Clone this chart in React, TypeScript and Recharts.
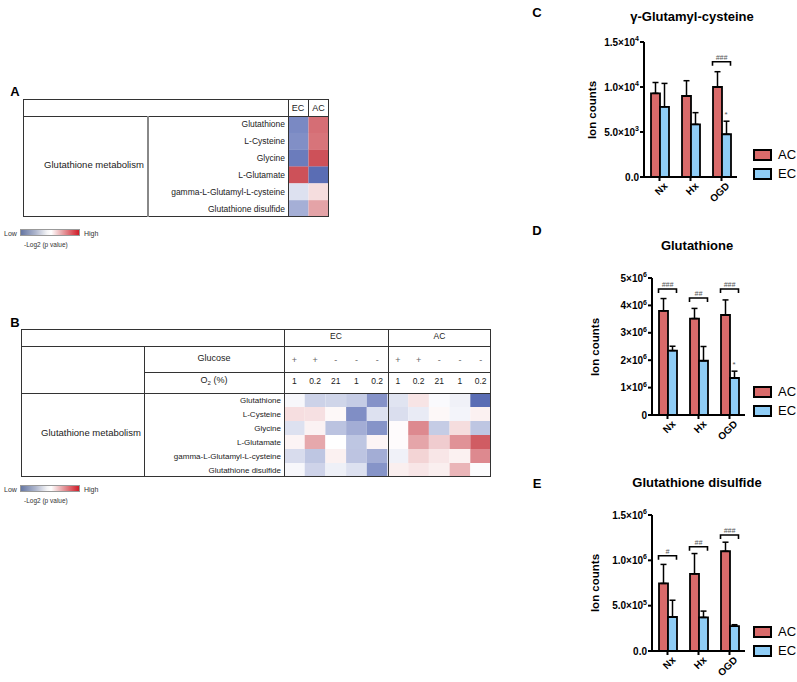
import React from 'react';
import { BarChart, Bar, XAxis, YAxis, Cell, ErrorBar, ReferenceDot, Legend } from 'recharts';

const FONT = '"Liberation Sans", Arial, Helvetica, sans-serif';
const AC_COLOR = '#d96a6a';
const EC_COLOR = '#8fcdf6';

// ---------- Heatmap data (-Log2 p value, signed: negative = low/blue, positive = high/red) ----------
const metabolites = ['Glutathione', 'L-Cysteine', 'Glycine', 'L-Glutamate', 'gamma-L-Glutamyl-L-cysteine', 'Glutathione disulfide'];
const heatAColumns = ['EC', 'AC'];
const heatA_EC = [-0.78, -0.74, -0.87, 0.96, -0.2, -0.53];
const heatA_AC = [0.8, 0.77, 0.96, -0.97, 0.19, 0.51];

const heatBGroups = ['EC', 'AC'];
const heatBGlucose = ['+', '+', '-', '-', '-', '+', '+', '-', '-', '-'];
const heatBO2 = ['1', '0.2', '21', '1', '0.2', '1', '0.2', '21', '1', '0.2'];
const heatB_Glutathione = [-0.05, -0.3, -0.28, -0.34, -0.72, -0.18, 0.15, -0.03, -0.09, -0.97];
const heatB_LCysteine = [0.18, 0.17, 0.04, -0.75, -0.2, -0.22, -0.13, 0.04, -0.07, 0.08];
const heatB_Glycine = [-0.2, 0.07, -0.4, -0.54, -0.71, 0.02, 0.65, -0.34, 0.19, -0.38];
const heatB_LGlutamate = [0.06, 0.48, 0.0, -0.38, 0.06, 0.02, 0.5, 0.28, 0.6, 0.9];
const heatB_Gamma = [-0.23, -0.38, 0.08, -0.39, -0.54, -0.09, 0.24, 0.14, 0.08, 0.65];
const heatB_GSSG = [-0.05, -0.29, -0.1, -0.2, -0.71, 0.09, 0.14, 0.09, 0.41, -0.02];

// ---------- Bar chart data ----------
const groups = ['Nx', 'Hx', 'OGD'];

const cTicks = [0, 5000, 10000, 15000];
const cTickLabels = ['0.0', '5.0×10^3', '1.0×10^4', '1.5×10^4'];
const cAC = [9300, 9000, 10000];
const cACErr = [1200, 1700, 1700];
const cEC = [7800, 5850, 4750];
const cECErr = [2600, 1300, 1450];
const cBracketGroups = ['OGD'];
const cBracketY = [12800];
const cBracketLabels = ['###'];
const cStarGroups = ['OGD'];
const cStarY = [7000];

const dTicks = [0, 1e6, 2e6, 3e6, 4e6, 5e6];
const dTickLabels = ['0', '1×10^6', '2×10^6', '3×10^6', '4×10^6', '5×10^6'];
const dAC = [3.8e6, 3.52e6, 3.65e6];
const dACErr = [0.45e6, 0.37e6, 0.55e6];
const dEC = [2.35e6, 1.98e6, 1.35e6];
const dECErr = [0.16e6, 0.52e6, 0.25e6];
const dBracketGroups = ['Nx', 'Hx', 'OGD'];
const dBracketY = [4.6e6, 4.27e6, 4.6e6];
const dBracketLabels = ['###', '##', '###'];
const dStarGroups = ['OGD'];
const dStarY = [1.85e6];

const eTicks = [0, 5e5, 1e6, 1.5e6];
const eTickLabels = ['0.0', '5.0×10^5', '1.0×10^6', '1.5×10^6'];
const eAC = [0.745e6, 0.85e6, 1.1e6];
const eACErr = [0.21e6, 0.225e6, 0.1e6];
const eEC = [0.375e6, 0.37e6, 0.275e6];
const eECErr = [0.185e6, 0.07e6, 0.015e6];
const eBracketGroups = ['Nx', 'Hx', 'OGD'];
const eBracketY = [1.05e6, 1.15e6, 1.28e6];
const eBracketLabels = ['#', '##', '###'];
const eStarGroups: string[] = [];
const eStarY: number[] = [];

// ---------- helpers ----------
function colorFor(v: number) {
  const t = Math.min(1, Math.abs(v));
  const tgt = v < 0 ? [85, 104, 178] : [203, 74, 82];
  const c = tgt.map((x) => Math.round(255 + (x - 255) * t));
  return `rgb(${c.join(',')})`;
}

const abs = (left: number, top: number, extra: any = {}) => ({ position: 'absolute' as const, left, top, ...extra });

function T({ x, y, size = 9, children, weight = 'normal', color = '#222', anchor = 'center' }: any) {
  const tx = anchor === 'center' ? '-50%' : anchor === 'end' ? '-100%' : '0';
  return (
    <div style={{ position: 'absolute', left: x, top: y, transform: `translate(${tx},-50%)`, fontSize: size, fontWeight: weight, color, whiteSpace: 'nowrap', lineHeight: 1, fontFamily: FONT }}>
      {children}
    </div>
  );
}
const HL = ({ x1, x2, y, c = '#333', w = 1 }: any) => <div style={abs(x1, y - w / 2, { width: x2 - x1, height: w, background: c })} />;
const VL = ({ x, y1, y2, c = '#333', w = 1 }: any) => <div style={abs(x - w / 2, y1, { width: w, height: y2 - y1, background: c })} />;

function Heat({ values, width, height, labelWidth, fontSize }: any) {
  const ncols = values[0].length;
  const data = metabolites.map((name) => {
    const o: any = { name };
    for (let c = 0; c < ncols; c++) o['c' + c] = 1;
    return o;
  });
  return (
    <BarChart layout="vertical" width={width} height={height} data={data} margin={{ top: 0, right: 0, bottom: 0, left: 0 }} barCategoryGap={0} barGap={0}>
      <XAxis type="number" hide domain={[0, ncols]} />
      <YAxis type="category" dataKey="name" width={labelWidth} tickSize={0} tickMargin={3} axisLine={false} tickLine={false} interval={0}
        tick={{ fontSize, fill: '#222', fontFamily: FONT }} />
      {Array.from({ length: ncols }).map((_, c) => (
        <Bar key={c} dataKey={'c' + c} stackId="s" isAnimationActive={false}>
          {metabolites.map((_, r) => <Cell key={r} fill={colorFor(values[r][c])} />)}
        </Bar>
      ))}
    </BarChart>
  );
}

function GradLegend({ top }: { top: number }) {
  return (
    <>
      <T x={4} y={top + 3.5} size={7} anchor="start" color="#333">Low</T>
      <div style={abs(20, top, { width: 60, height: 7, border: '0.5px solid #999', boxSizing: 'border-box', background: 'linear-gradient(to right, #6677a3 0%, #aeb6cd 25%, #f4f4f6 45%, #ffffff 52%, #e8a9ac 70%, #d01c28 100%)' })} />
      <T x={84} y={top + 3.5} size={7} anchor="start" color="#333">High</T>
      <T x={24} y={top + 16} size={6.5} anchor="start" color="#333">-Log2 (p value)</T>
    </>
  );
}

function YTick(props: any) {
  const { x, y, payload, labels, values } = props;
  const idx = values.indexOf(payload.value);
  const lab: string = idx >= 0 ? labels[idx] : String(payload.value);
  const [base, exp] = lab.split('^');
  return (
    <text x={x} y={y} dy={3.6} textAnchor="end" fontSize={10} fontWeight="bold" fontFamily={FONT} fill="#000">
      {base}
      {exp ? <tspan dy={-4.5} fontSize={7}>{exp}</tspan> : null}
    </text>
  );
}

function XTick(props: any) {
  const { x, y, payload } = props;
  const ax = x + 3;
  const ay = y - 1;
  return (
    <text x={ax} y={ay} dy={8} transform={`rotate(-45 ${ax} ${ay})`} textAnchor="end" fontSize={10} fontWeight="bold" fontFamily={FONT} fill="#000">
      {payload.value}
    </text>
  );
}

function Bracket({ cx, cy, label }: any) {
  if (cx == null || cy == null) return null;
  return (
    <g>
      <path d={`M${cx - 9},${cy + 4} L${cx - 9},${cy} L${cx + 9},${cy} L${cx + 9},${cy + 4}`} fill="none" stroke="#000" strokeWidth={1.6} />
      <text x={cx} y={cy - 2} textAnchor="middle" fontSize={7} fontStyle="italic" fill="#555" fontFamily={FONT}>{label}</text>
    </g>
  );
}

function Star({ cx, cy }: any) {
  if (cx == null || cy == null) return null;
  return <text x={cx + 4.5} y={cy + 3} textAnchor="middle" fontSize={8} fill="#555" fontFamily={FONT}>*</text>;
}

function LegendBox() {
  const row = (color: string, name: string, top: number) => (
    <div style={{ position: 'absolute', left: 0, top, display: 'flex', alignItems: 'center' }}>
      <div style={{ width: 15, height: 8, background: color, border: '2px solid #000', boxSizing: 'content-box' }} />
      <span style={{ marginLeft: 6, fontSize: 13, fontFamily: FONT, color: '#000', lineHeight: 1 }}>{name}</span>
    </div>
  );
  return (
    <div style={{ position: 'relative', width: 50, height: 40 }}>
      {row(AC_COLOR, 'AC', 0)}
      {row(EC_COLOR, 'EC', 19)}
    </div>
  );
}

function IonChart(p: any) {
  const data = groups.map((g, i) => ({ g, ac: p.ac[i], acE: [0, p.acErr[i]], ec: p.ec[i], ecE: [0, p.ecErr[i]] }));
  const axisStyle = { stroke: '#000', strokeWidth: 2 };
  return (
    <div style={abs(p.left, p.top)}>
      <BarChart width={p.width} height={p.height} data={data} margin={{ top: 42, right: p.marginRight, bottom: 0, left: 0 }} barGap={0} barCategoryGap={0}>
        <XAxis dataKey="g" height={p.xAxisHeight} tickSize={4} tickMargin={1} interval={0} axisLine={axisStyle} tickLine={axisStyle}
          tick={(tp: any) => <XTick {...tp} />} />
        <YAxis type="number" domain={p.domain} ticks={p.ticks} width={p.yAxisWidth} tickSize={4} tickMargin={1} interval={0}
          axisLine={axisStyle} tickLine={axisStyle} allowDataOverflow
          tick={(tp: any) => <YTick {...tp} labels={p.tickLabels} values={p.ticks} />} />
        <Bar dataKey="ac" fill={AC_COLOR} stroke="#000" strokeWidth={1.8} barSize={9} isAnimationActive={false}>
          <ErrorBar dataKey="acE" width={3} strokeWidth={1.5} stroke="#000" direction="y" />
        </Bar>
        <Bar dataKey="ec" fill={EC_COLOR} stroke="#000" strokeWidth={1.8} barSize={9} isAnimationActive={false}>
          <ErrorBar dataKey="ecE" width={3} strokeWidth={1.5} stroke="#000" direction="y" />
        </Bar>
        {p.bracketGroups.map((g: string, i: number) => (
          <ReferenceDot key={'b' + i} x={g} y={p.bracketY[i]} r={1} ifOverflow="visible"
            shape={(sp: any) => <Bracket cx={sp.cx} cy={sp.cy} label={p.bracketLabels[i]} />} />
        ))}
        {p.starGroups.map((g: string, i: number) => (
          <ReferenceDot key={'s' + i} x={g} y={p.starY[i]} r={1} ifOverflow="visible"
            shape={(sp: any) => <Star cx={sp.cx} cy={sp.cy} />} />
        ))}
        <Legend layout="vertical" align="center" verticalAlign="middle"
          wrapperStyle={{ left: p.legendLeft, top: p.legendTop, width: 50, height: 40 }}
          content={() => <LegendBox />} />
      </BarChart>
    </div>
  );
}

export default function App() {
  const heatAValues = metabolites.map((_, r) => [heatA_EC[r], heatA_AC[r]]);
  const heatBValues = [heatB_Glutathione, heatB_LCysteine, heatB_Glycine, heatB_LGlutamate, heatB_Gamma, heatB_GSSG];
  const bColW = (491 - 284) / 10;

  return (
    <div style={{ position: 'absolute', left: 0, top: 0, width: 797, height: 682, background: '#fff', fontFamily: FONT, overflow: 'hidden' }}>
      {/* ---------------- Panel A ---------------- */}
      <T x={15} y={91} size={13} weight="bold" color="#000">A</T>
      <div style={abs(148, 116)}>
        <Heat values={heatAValues} width={181} height={101} labelWidth={140} fontSize={8.5} />
      </div>
      <div style={abs(23, 99, { width: 306, height: 118, border: '1px solid #333', boxSizing: 'border-box' })} />
      <HL x1={23} x2={329} y={116} />
      <VL x={288} y1={99} y2={217} />
      <VL x={308} y1={99} y2={116} />
      <VL x={148} y1={116} y2={217} c="#888" w={1.6} />
      <T x={298} y={108} size={9}>{heatAColumns[0]}</T>
      <T x={318.5} y={108} size={9}>{heatAColumns[1]}</T>
      <T x={94} y={165} size={9.5}>Glutathione metabolism</T>
      <GradLegend top={229} />

      {/* ---------------- Panel B ---------------- */}
      <T x={15} y={322} size={13} weight="bold" color="#000">B</T>
      <div style={abs(144, 393)}>
        <Heat values={heatBValues} width={347} height={84} labelWidth={140} fontSize={8} />
      </div>
      <div style={abs(21, 329, { width: 470, height: 148, border: '1px solid #333', boxSizing: 'border-box' })} />
      <HL x1={21} x2={491} y={346} />
      <HL x1={144} x2={491} y={372} />
      <HL x1={21} x2={491} y={393.5} />
      <VL x={144} y1={346} y2={477} />
      <VL x={284} y1={329} y2={477} />
      <VL x={388} y1={329} y2={477} />
      <T x={336} y={336} size={8.5}>{heatBGroups[0]}</T>
      <T x={439.5} y={336} size={8.5}>{heatBGroups[1]}</T>
      <T x={214} y={358} size={9}>Glucose</T>
      <T x={214} y={381} size={9}>O<sub style={{ fontSize: 6 }}>2</sub> (%)</T>
      {heatBGlucose.map((s, i) => (
        <T key={'g' + i} x={284 + (i + 0.5) * bColW} y={360} size={9} color="#666">{s}</T>
      ))}
      {heatBO2.map((s, i) => (
        <T key={'o' + i} x={284 + (i + 0.5) * bColW} y={381} size={8.5}>{s}</T>
      ))}
      <T x={91} y={433} size={9.5}>Glutathione metabolism</T>
      <GradLegend top={485} />

      {/* ---------------- Panel C ---------------- */}
      <T x={537} y={12} size={13} weight="bold" color="#000">C</T>
      <T x={692} y={16} size={13} weight="bold" color="#000">γ-Glutamyl-cysteine</T>
      <div style={abs(592, 110, { transform: 'translate(-50%,-50%) rotate(-90deg)', fontSize: 11.5, fontWeight: 'bold', whiteSpace: 'nowrap' })}>Ion counts</div>
      <IonChart left={560} top={0} width={237} height={210} marginRight={60} yAxisWidth={84} xAxisHeight={33}
        domain={[0, 15000]} ticks={cTicks} tickLabels={cTickLabels}
        ac={cAC} acErr={cACErr} ec={cEC} ecErr={cECErr}
        bracketGroups={cBracketGroups} bracketY={cBracketY} bracketLabels={cBracketLabels}
        starGroups={cStarGroups} starY={cStarY} legendLeft={193} legendTop={148} />

      {/* ---------------- Panel D ---------------- */}
      <T x={537} y={230} size={13} weight="bold" color="#000">D</T>
      <T x={697} y={245} size={13} weight="bold" color="#000">Glutathione</T>
      <div style={abs(595, 347, { transform: 'translate(-50%,-50%) rotate(-90deg)', fontSize: 11.5, fontWeight: 'bold', whiteSpace: 'nowrap' })}>Ion counts</div>
      <IonChart left={560} top={236} width={237} height={212} marginRight={52} yAxisWidth={92} xAxisHeight={33}
        domain={[0, 5e6]} ticks={dTicks} tickLabels={dTickLabels}
        ac={dAC} acErr={dACErr} ec={dEC} ecErr={dECErr}
        bracketGroups={dBracketGroups} bracketY={dBracketY} bracketLabels={dBracketLabels}
        starGroups={dStarGroups} starY={dStarY} legendLeft={193} legendTop={149} />

      {/* ---------------- Panel E ---------------- */}
      <T x={537} y={483} size={13} weight="bold" color="#000">E</T>
      <T x={697} y={482} size={13} weight="bold" color="#000">Glutathione disulfide</T>
      <div style={abs(595, 583, { transform: 'translate(-50%,-50%) rotate(-90deg)', fontSize: 11.5, fontWeight: 'bold', whiteSpace: 'nowrap' })}>Ion counts</div>
      <IonChart left={560} top={473} width={237} height={208} marginRight={52} yAxisWidth={92} xAxisHeight={30}
        domain={[0, 1.5e6]} ticks={eTicks} tickLabels={eTickLabels}
        ac={eAC} acErr={eACErr} ec={eEC} ecErr={eECErr}
        bracketGroups={eBracketGroups} bracketY={eBracketY} bracketLabels={eBracketLabels}
        starGroups={eStarGroups} starY={eStarY} legendLeft={193} legendTop={152} />
    </div>
  );
}
